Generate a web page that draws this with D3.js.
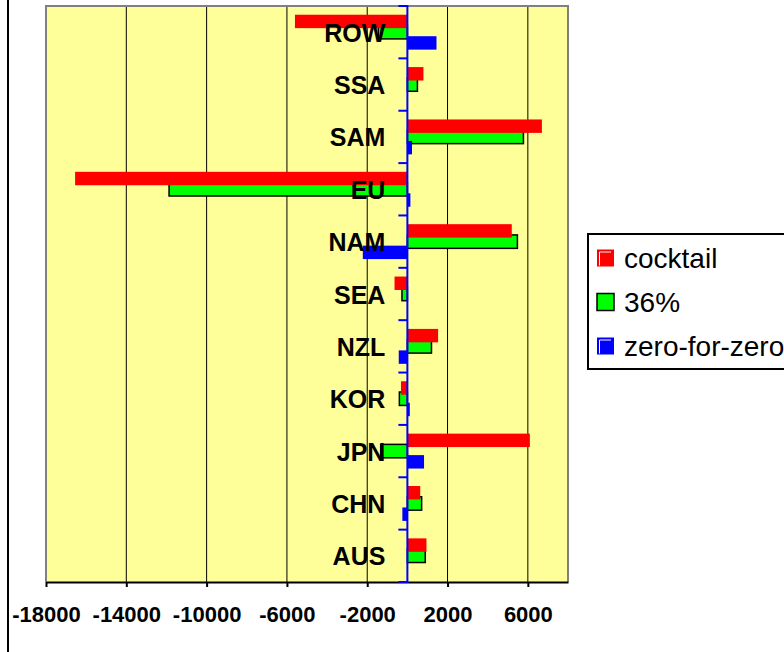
<!DOCTYPE html>
<html>
<head>
<meta charset="utf-8">
<script src="https://cdn.jsdelivr.net/npm/d3@7/dist/d3.min.js"></script>
<style>
  html, body { margin: 0; padding: 0; background: #ffffff; }
  svg { display: block; font-family: "Liberation Sans", Arial, sans-serif; }
</style>
</head>
<body>
<svg id="chart" width="784" height="652"></svg>
<script>
// Regions, listed bottom to top
const categories = ["AUS", "CHN", "JPN", "KOR", "NZL", "SEA", "NAM", "EU", "SAM", "SSA", "ROW"];

// Change per region under each scenario
const cocktail    = [950, 640, 6100, -320, 1530, -640, 5200, -16550, 6700, 800, -5600];
const pct36       = [890, 710, -1330, -400, 1200, -270, 5480, -11870, 5780, 500, -1450];
const zeroForZero = [0, -250, 830, 120, -430, 0, -2220, 150, 230, 0, 1450];

const seriesNames = ["cocktail", "36%", "zero-for-zero"];
const seriesColors = ["#ff0000", "#00ff00", "#0000ff"];

const xDomain = [-18000, 8000];
const xTickValues = [-18000, -14000, -10000, -6000, -2000, 2000, 6000];
const xGridValues = [-14000, -10000, -6000, -2000, 2000, 6000];

const svg = d3.select("#chart");

const plot = { left: 46, right: 568, top: 6, bottom: 582 };

const x = d3.scaleLinear().domain(xDomain).range([plot.left, plot.right]);
const y = d3.scaleBand()
  .domain(categories.slice().reverse())
  .range([plot.top, plot.bottom])
  .padding(0);

// chart-area left edge
svg.append("line")
  .attr("x1", 8).attr("x2", 8)
  .attr("y1", 0).attr("y2", 652)
  .attr("stroke", "#000").attr("stroke-width", 2);

// plot background
svg.append("rect")
  .attr("x", plot.left).attr("y", plot.top)
  .attr("width", plot.right - plot.left)
  .attr("height", plot.bottom - plot.top)
  .attr("fill", "#ffff99");

// vertical gridlines
svg.append("g")
  .selectAll("line")
  .data(xGridValues)
  .join("line")
  .attr("x1", d => x(d)).attr("x2", d => x(d))
  .attr("y1", plot.top).attr("y2", plot.bottom)
  .attr("stroke", "#000").attr("stroke-width", 1);

// plot frame (left, top, right)
svg.append("path")
  .attr("d", `M${plot.left},${plot.bottom} V${plot.top} H${plot.right} V${plot.bottom}`)
  .attr("fill", "none")
  .attr("stroke", "#808080")
  .attr("stroke-width", 2);

// bar geometry within each category band (overlapping cluster)
const band = y.bandwidth();
const overlap = 0.2;
const gapWidth = 1.3;
const barH = band / (3 - 2 * overlap + gapWidth);
const clusterTop = (band - barH * (3 - 2 * overlap)) / 2;
const seriesOffset = i => clusterTop + i * barH * (1 - overlap);

const series = [cocktail, pct36, zeroForZero];
const rows = categories.map((c, i) => ({ cat: c, values: series.map(s => s[i]) }));

// drawing order: green first, then red and blue over it
const drawOrder = [1, 0, 2];
const barsG = svg.append("g");
drawOrder.forEach(si => {
  barsG.append("g")
    .selectAll("rect")
    .data(rows)
    .join("rect")
    .attr("x", d => x(Math.min(0, d.values[si])))
    .attr("y", d => y(d.cat) + seriesOffset(si))
    .attr("width", d => Math.abs(x(d.values[si]) - x(0)))
    .attr("height", barH)
    .attr("fill", seriesColors[si])
    .attr("stroke", si === 1 ? "#000" : "none")
    .attr("stroke-width", si === 1 ? 1.5 : 0);
});

// value axis along the bottom
const xAxis = d3.axisBottom(x)
  .tickValues(xTickValues)
  .tickSize(5)
  .tickSizeOuter(0)
  .tickPadding(12)
  .tickFormat(d => String(d));

const xAxisG = svg.append("g")
  .attr("transform", `translate(0,${plot.bottom})`)
  .call(xAxis);
xAxisG.select(".domain").attr("stroke", "#000").attr("stroke-width", 2);
xAxisG.selectAll(".tick line").attr("stroke", "#000").attr("stroke-width", 2);
xAxisG.selectAll(".tick text")
  .attr("fill", "#000")
  .attr("dy", null)
  .attr("y", 40)
  .style("font-family", "'Liberation Sans', Arial, sans-serif")
  .style("font-size", "22px")
  .style("font-weight", "bold");

// category axis at zero with tick marks at band boundaries
const x0 = x(0);
const boundaries = y.domain().map(c => y(c)).concat([plot.bottom]);
const catAxis = svg.append("g");
catAxis.append("line")
  .attr("x1", x0).attr("x2", x0)
  .attr("y1", plot.top - 1).attr("y2", plot.bottom + 1)
  .attr("stroke", "#0000ff").attr("stroke-width", 2);
catAxis.selectAll("line.tick")
  .data(boundaries)
  .join("line")
  .attr("class", "tick")
  .attr("x1", x0 - 9).attr("x2", x0)
  .attr("y1", d => d).attr("y2", d => d)
  .attr("stroke", "#0000ff").attr("stroke-width", 2);

// category labels, drawn over the bars
svg.append("g")
  .selectAll("text")
  .data(categories)
  .join("text")
  .attr("x", x0 - 22)
  .attr("y", d => y(d) + band / 2 + 9.5)
  .attr("text-anchor", "end")
  .attr("fill", "#000")
  .style("font-size", "25px")
  .style("font-weight", "bold")
  .text(d => d);

// legend
const legend = svg.append("g");
legend.append("rect")
  .attr("x", 588).attr("y", 234)
  .attr("width", 230).attr("height", 135)
  .attr("fill", "#fff")
  .attr("stroke", "#000").attr("stroke-width", 2);

const sw = 17;
const items = legend.selectAll("g.item")
  .data(seriesNames)
  .join("g")
  .attr("class", "item")
  .attr("transform", (d, i) => `translate(597,${249.5 + i * 44})`);

items.append("rect")
  .attr("width", sw).attr("height", sw)
  .attr("fill", (d, i) => seriesColors[i])
  .attr("stroke", (d, i) => i === 1 ? "#000" : "none")
  .attr("stroke-width", 1.5);

items.filter((d, i) => i !== 1)
  .append("path")
  .attr("d", `M2.5,${sw - 1} V2.5 H${sw - 3}`)
  .attr("fill", "none")
  .attr("stroke", "#fff")
  .attr("stroke-width", 1);

items.append("text")
  .attr("x", 27)
  .attr("y", 18)
  .attr("fill", "#000")
  .style("font-size", "28px")
  .text(d => d);
</script>
</body>
</html>
